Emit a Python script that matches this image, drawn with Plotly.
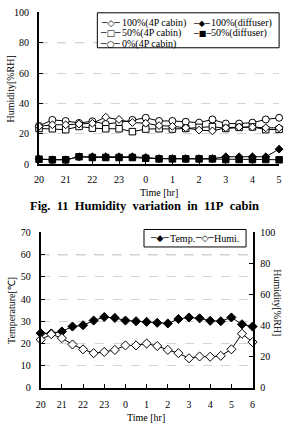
import plotly.graph_objects as go

# ---------------- data ----------------
# Fig. 11 (top): humidity in 11P cabin, time in hours after 20:00
top_time = [0, 0.5, 1, 1.5, 2, 2.5, 3, 3.5, 4, 4.5, 5, 5.5, 6, 6.5, 7, 7.5, 8, 8.5, 9]
top_tickvals = [0, 1, 2, 3, 4, 5, 6, 7, 8, 9]
top_ticktext = ["20", "21", "22", "23", "0", "1", "2", "3", "4", "5"]
hum_100_4p = [25, 26, 26, 26.5, 27, 31, 29.5, 27.5, 27, 25.5, 25, 24, 22.5, 22, 24, 24.5, 24.5, 24, 24]
hum_50_4p = [23.6, 23.4, 22.8, 24.9, 23.8, 23.4, 23.4, 21.5, 23.2, 23.4, 23.2, 23.6, 24.3, 24.8, 23.6, 24.3, 24.6, 22.8, 23.0]
hum_0_4p = [25.3, 29.2, 28.5, 27.2, 28.3, 26.5, 27.5, 29.2, 30.6, 28.5, 28.5, 28.0, 27.4, 29.5, 26.8, 26.8, 27.4, 29.5, 30.6]
hum_100_diff = [3.5, 3, 3, 5, 5, 5, 5, 5, 4.5, 3.8, 3.8, 3.8, 3.8, 3.8, 5, 5, 5, 5, 10]
hum_50_diff = [3.4, 3, 3, 5, 4.5, 4.5, 4.5, 4.5, 4, 3.6, 3.6, 3.6, 3.6, 3.6, 3.2, 3.2, 3.2, 3.2, 3]

# bottom chart: temperature / humidity
bot_time = [0, 0.5, 1, 1.5, 2, 2.5, 3, 3.5, 4, 4.5, 5, 5.5, 6, 6.5, 7, 7.5, 8, 8.5, 9, 9.5, 10]
bot_tickvals = [0, 1, 2, 3, 4, 5, 6, 7, 8, 9, 10]
bot_ticktext = ["20", "21", "22", "23", "0", "1", "2", "3", "4", "5", "6"]
temp = [24.6, 24.5, 25.4, 27.6, 28.2, 30.3, 31.9, 31.5, 30.3, 30.0, 29.7, 29.3, 29.0, 31.0, 31.7, 31.3, 30.2, 30.0, 31.7, 28.6, 27.6]
humi = [31, 34.5, 32, 27.9, 24.8, 22.3, 23.1, 24.4, 27.3, 27.3, 28.5, 26.9, 24.4, 22.3, 19, 20.2, 20, 20.6, 24.8, 34.8, 29.4]

W, H = 286, 423
SERIF = "Liberation Serif, Times New Roman, serif"
SYM = "DejaVu Sans"


def px(x):
    return x / W


def py(y):
    return 1 - y / H


fig = go.Figure()

line = dict(color="black", width=1)
# top chart traces
fig.add_trace(go.Scatter(x=top_time, y=hum_0_4p, mode="lines+markers", line=line, cliponaxis=False,
                         marker=dict(symbol="circle", size=7, color="white", line=dict(color="black", width=1)),
                         xaxis="x", yaxis="y", name="0%(4P cabin)"))
fig.add_trace(go.Scatter(x=top_time, y=hum_50_4p, mode="lines+markers", line=line, cliponaxis=False,
                         marker=dict(symbol="square", size=6.5, color="white", line=dict(color="black", width=1)),
                         xaxis="x", yaxis="y", name="50%(4P cabin)"))
fig.add_trace(go.Scatter(x=top_time, y=hum_100_4p, mode="lines+markers", line=line, cliponaxis=False,
                         marker=dict(symbol="diamond", size=6, color="white", line=dict(color="black", width=1)),
                         xaxis="x", yaxis="y", name="100%(4P cabin)"))
fig.add_trace(go.Scatter(x=top_time, y=hum_50_diff, mode="lines+markers", line=line, cliponaxis=False,
                         marker=dict(symbol="square", size=6.5, color="black", line=dict(color="black", width=1)),
                         xaxis="x", yaxis="y", name="50%(diffuser)"))
fig.add_trace(go.Scatter(x=top_time, y=hum_100_diff, mode="lines+markers", line=line, cliponaxis=False,
                         marker=dict(symbol="diamond", size=6, color="black", line=dict(color="black", width=1)),
                         xaxis="x", yaxis="y", name="100%(diffuser)"))
# bottom chart traces
fig.add_trace(go.Scatter(x=bot_time, y=temp, mode="lines+markers", line=line, cliponaxis=False,
                         marker=dict(symbol="diamond", size=7, color="black", line=dict(color="black", width=1)),
                         xaxis="x2", yaxis="y2", name="Temp."))
fig.add_trace(go.Scatter(x=bot_time, y=humi, mode="lines+markers", line=line, cliponaxis=False,
                         marker=dict(symbol="diamond", size=7, color="white", line=dict(color="black", width=1)),
                         xaxis="x2", yaxis="y3", name="Humi."))

tickfont = dict(family=SERIF, size=10, color="black")
grid = dict(showgrid=True, gridcolor="#d4d4d4", griddash="dash", gridwidth=1)

fig.update_layout(
    width=W, height=H, margin=dict(l=0, r=0, t=0, b=0),
    paper_bgcolor="white", plot_bgcolor="white", showlegend=False,
    xaxis=dict(domain=[px(35), px(282)], range=[0, 9], anchor="y", tickvals=top_tickvals, ticktext=top_ticktext,
               showline=True, linecolor="black", linewidth=2, ticks="inside", ticklen=4, tickcolor="black",
               showgrid=False, zeroline=False, tickfont=tickfont, ticklabelstandoff=5),
    yaxis=dict(domain=[py(163), py(6.3)], range=[0, 100], anchor="x", dtick=20,
               showline=True, linecolor="black", linewidth=2, ticks="inside", ticklen=4, tickcolor="black",
               zeroline=False, tickfont=tickfont, ticklabelstandoff=6, **grid),
    xaxis2=dict(domain=[px(36.7), px(254.7)], range=[0, 10], anchor="y2", tickvals=bot_tickvals, ticktext=bot_ticktext,
                showline=True, linecolor="black", linewidth=2, ticks="inside", ticklen=4, tickcolor="black",
                showgrid=False, zeroline=False, tickfont=tickfont, ticklabelstandoff=6),
    yaxis2=dict(domain=[py(393), py(233)], range=[0, 70], anchor="x2", dtick=10,
                showline=True, linecolor="black", linewidth=2, ticks="inside", ticklen=4, tickcolor="black",
                zeroline=False, tickfont=tickfont, ticklabelstandoff=6, **grid),
    yaxis3=dict(range=[0, 100], anchor="x2", overlaying="y2", side="right", dtick=20,
                showline=True, linecolor="black", linewidth=1.5, ticks="inside", ticklen=4, tickcolor="black",
                showgrid=False, zeroline=False, tickfont=tickfont, ticklabelstandoff=4),
)

# reference dashed lines
fig.add_shape(type="line", xref="x", yref="y", x0=0, x1=9, y0=80, y1=80,
              line=dict(color="black", width=1, dash="dash"), layer="below")
fig.add_shape(type="line", xref="x2", yref="y2", x0=0, x1=10, y0=60, y1=60,
              line=dict(color="black", width=1, dash="dash"), layer="below")

# legend boxes
fig.add_shape(type="rect", xref="paper", yref="paper", x0=px(95), x1=px(282), y0=py(43), y1=py(7),
              line=dict(color="black", width=1), fillcolor="white")
fig.add_shape(type="rect", xref="paper", yref="paper", x0=px(143), x1=px(248), y0=py(248), y1=py(230),
              line=dict(color="black", width=1), fillcolor="white")


def ann(x, y, text, size=10, family=SERIF, xanchor="left", angle=0, bold=False):
    if bold:
        text = "<b>" + text + "</b>"
    fig.add_annotation(x=px(x), y=py(y), xref="paper", yref="paper", text=text, showarrow=False,
                       xanchor=xanchor, yanchor="middle", textangle=angle,
                       font=dict(family=family, size=size, color="black"))


# top legend
ann(108.5, 17.7, "─◇─", size=9, family=SYM, xanchor="center")
ann(118, 17.7, "100%(4P cabin)")
ann(108.5, 28.3, "─□─", size=9, family=SYM, xanchor="center")
ann(118, 28.3, "50%(4P cabin)")
ann(108.5, 38.6, "─○─", size=9, family=SYM, xanchor="center")
ann(118, 38.6, "0%(4P cabin)")
ann(202.5, 17.7, "─◆─", size=8, family=SYM, xanchor="center")
ann(210, 17.7, "100%(diffuser)")
ann(202.5, 28.3, "─■─", size=8, family=SYM, xanchor="center")
ann(210, 28.3, "50%(diffuser)")

# bottom legend
ann(158.5, 239, "─◆─", size=9, family=SYM, xanchor="center")
ann(168, 239, "Temp.")
ann(205, 239, "─◇─", size=9, family=SYM, xanchor="center")
ann(213, 239, "Humi.")

# axis titles and caption
ann(6, 85, "Humidity[%RH]", xanchor="center", angle=-90)
ann(158, 192, "Time [hr]", xanchor="center")
ann(144, 206, "Fig.\u00a0 11\u00a0 Humidity\u00a0 variation\u00a0 in\u00a0 11P\u00a0 cabin", size=12.5, xanchor="center", bold=True)
ann(6, 313, "Temperature[℃]", xanchor="center", angle=-90)
ann(281, 305, "Humidity[%RH]", xanchor="center", angle=90)
ann(145, 423, "Time [hr]", xanchor="center")

fig.write_html("out.html")
